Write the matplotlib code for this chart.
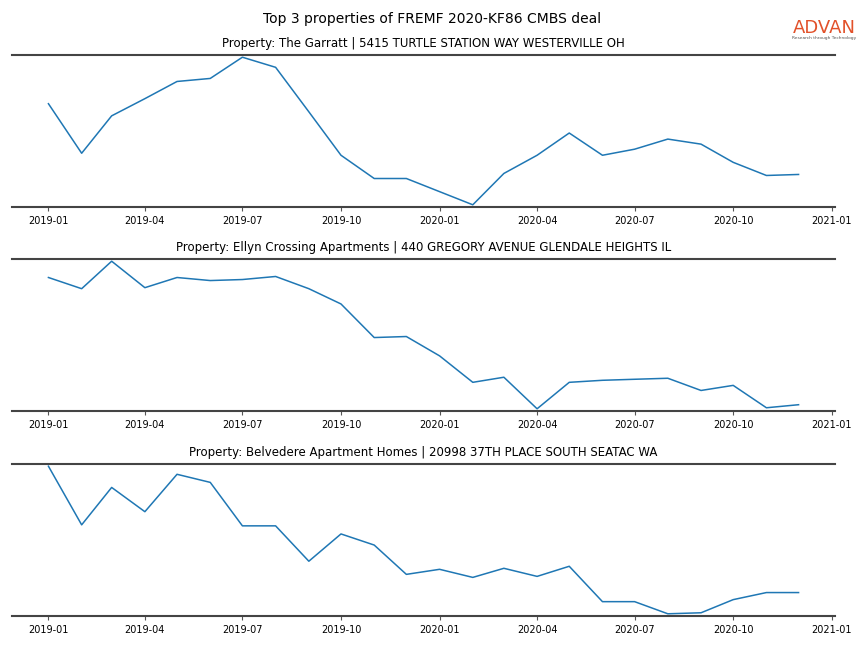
import matplotlib
matplotlib.use("Agg")
import matplotlib.pyplot as plt
import matplotlib.dates as mdates
import pandas as pd

# monthly observations, 2019-01 .. 2020-12
months = pd.date_range("2019-01-01", "2020-12-01", freq="MS")

titles = [
    "Property: The Garratt | 5415 TURTLE STATION WAY WESTERVILLE OH",
    "Property: Ellyn Crossing Apartments | 440 GREGORY AVENUE GLENDALE HEIGHTS IL",
    "Property: Belvedere Apartment Homes | 20998 37TH PLACE SOUTH SEATAC WA",
]

garratt = [103, 54, 91, 108, 125, 128, 149, 139, 95, 52, 29, 29,
           16, 3, 34, 52, 74, 52, 58, 68, 63, 45, 32, 33]
ellyn = [131, 120, 147, 121, 131, 128, 129, 132, 120, 105, 72, 73,
         54, 28, 33, 2, 28, 30, 31, 32, 20, 25, 3, 6]
belvedere = [148, 90, 127, 103, 140, 132, 89, 89, 54, 81, 70, 41,
             46, 38, 47, 39, 49, 14, 14, 2, 3, 16, 23, 23]

series = [garratt, ellyn, belvedere]

fig = plt.figure(figsize=(8.64, 6.48), dpi=100)
fig.suptitle("Top 3 properties of FREMF 2020-KF86 CMBS deal", y=0.982, fontsize=10)

tops = [55, 259, 464]
height = 152
for top, title, vals in zip(tops, titles, series):
    ax = fig.add_axes([12 / 864, 1 - (top + height) / 648, 823 / 864, height / 648])
    ax.plot(months, vals, color="#1f77b4", linewidth=1.1)
    ax.margins(y=0.015)
    ax.set_title(title, fontsize=8.5, pad=6)
    ax.xaxis.set_major_locator(mdates.MonthLocator(bymonth=[1, 4, 7, 10]))
    ax.xaxis.set_major_formatter(mdates.DateFormatter("%Y-%m"))
    ax.set_xlim(pd.Timestamp("2018-11-28"), pd.Timestamp("2021-01-04"))
    ax.tick_params(axis="x", labelsize=7, length=3, color="#555555")
    ax.set_yticks([])
    for side in ["left", "right"]:
        ax.spines[side].set_visible(False)
    for side in ["top", "bottom"]:
        ax.spines[side].set_color("#444444")
        ax.spines[side].set_linewidth(1.5)

# logo
fig.text(824 / 864, 1 - 28 / 648, "ADVAN", color="#E2512A", fontsize=13,
         fontweight="medium", ha="center", va="center")
fig.text(824 / 864, 1 - 38 / 648, "Research through Technology", color="#555555",
         fontsize=3.2, ha="center", va="center")

fig.savefig("out.png", dpi=100)
